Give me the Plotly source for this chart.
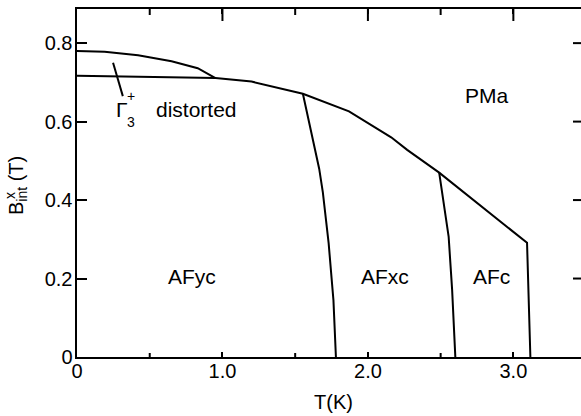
import plotly.graph_objects as go

# Phase boundaries, internal field B_int^x (T) versus temperature T (K)
upper_T = [0.0, 0.19, 0.42, 0.65, 0.83, 0.94, 0.952]
upper_B = [0.780, 0.778, 0.769, 0.754, 0.736, 0.714, 0.711]

main_T = [0.0, 0.5, 0.952, 1.20, 1.42, 1.553, 1.87, 2.16, 2.27, 2.49, 3.094, 3.105, 3.117]
main_B = [0.717, 0.714, 0.711, 0.702, 0.682, 0.671, 0.626, 0.560, 0.528, 0.470, 0.291, 0.171, 0.0]

afxc_T = [1.553, 1.62, 1.665, 1.69, 1.73, 1.763, 1.777, 1.78]
afxc_B = [0.671, 0.553, 0.480, 0.420, 0.290, 0.145, 0.030, 0.0]

afc_T = [2.49, 2.555, 2.579, 2.601]
afc_B = [0.470, 0.307, 0.171, 0.0]

pointer_T = [0.248, 0.315]
pointer_B = [0.750, 0.665]

# phase labels
phase_names = ["AFyc", "AFxc", "AFc", "PMa"]
phase_T = [0.794, 2.115, 2.85, 2.82]
phase_B = [0.206, 0.206, 0.206, 0.667]

x_tickvals = [0, 1, 2, 3]
x_ticktext = ["0", "1.0", "2.0", "3.0"]
x_minor = [0.5, 1.5, 2.5]
y_tickvals = [0, 0.2, 0.4, 0.6, 0.8]
y_ticktext = ["0", "0.2", "0.4", "0.6", "0.8"]
y_right_ticks = [0.2, 0.4, 0.6, 0.8]

FONT = "Liberation Sans"
LW = 2

fig = go.Figure()
for tx, by in [(upper_T, upper_B), (main_T, main_B), (afxc_T, afxc_B),
               (afc_T, afc_B), (pointer_T, pointer_B)]:
    fig.add_trace(go.Scatter(x=tx, y=by, mode="lines",
                             line=dict(color="black", width=LW),
                             showlegend=False, hoverinfo="skip"))

XR = [0, 3.465]
YR = [0, 0.887]

fig.update_layout(
    template="none",
    width=581, height=416,
    margin=dict(l=77, r=0, t=9, b=59),
    paper_bgcolor="white", plot_bgcolor="white",
    font=dict(family=FONT, size=20, color="black"),
    xaxis=dict(range=XR, showgrid=False, zeroline=False, automargin=False,
               showline=True, linecolor="black", linewidth=2,
               mirror="ticks", ticks="inside", ticklen=5, tickwidth=2, tickcolor="black",
               tickmode="array", tickvals=x_tickvals, ticktext=x_ticktext,
               ticklabelstandoff=-5, tickfont=dict(family=FONT, size=20)),
    yaxis=dict(range=YR, showgrid=False, zeroline=False, automargin=False,
               showline=True, linecolor="black", linewidth=2.5,
               ticks="inside", ticklen=10, tickwidth=2, tickcolor="black",
               tickmode="array", tickvals=y_tickvals, ticktext=y_ticktext,
               ticklabelstandoff=-2, tickfont=dict(family=FONT, size=20)),
)

tick_line = dict(color="black", width=2)


def xtick(val, at, length):
    # vertical tick of `length` px at axis value `val`, anchored on paper y `at`
    fig.add_shape(type="line", xref="x", yref="paper", ysizemode="pixel",
                  yanchor=at, x0=val, x1=val, y0=0, y1=length, line=tick_line)


def ytick(val, at, length):
    fig.add_shape(type="line", xref="paper", yref="y", xsizemode="pixel",
                  xanchor=at, y0=val, y1=val, x0=0, x1=length, line=tick_line)


# longer ticks hanging from the top frame line, short ones along the right edge
for v in x_minor:
    xtick(v, 0, 4)
    xtick(v, 1, -6)
for v in x_tickvals[1:]:
    xtick(v, 1, -12)
for v in y_right_ticks:
    ytick(v, 1, -8)

for name, tx, by in zip(phase_names, phase_T, phase_B):
    fig.add_annotation(x=tx, y=by, text=name, showarrow=False,
                       font=dict(family=FONT, size=21))

# Gamma_3^+ distorted label, with stacked sub/superscript
fig.add_annotation(x=0.309, y=0.632, text="Γ", showarrow=False,
                   font=dict(family=FONT, size=21))
fig.add_annotation(x=0.372, y=0.664, text="+", showarrow=False,
                   font=dict(family=FONT, size=14))
fig.add_annotation(x=0.368, y=0.600, text="3", showarrow=False,
                   font=dict(family=FONT, size=14))
fig.add_annotation(x=0.526, y=0.632, text="distorted", showarrow=False,
                   xanchor="left", font=dict(family=FONT, size=21))

# axis titles
fig.add_annotation(xref="paper", yref="paper", x=(333 - 77) / 504, y=(357 - 402) / 348,
                   xanchor="center", yanchor="middle",
                   text="T(K)", showarrow=False, font=dict(family=FONT, size=20))
fig.add_annotation(xref="paper", yref="paper", x=(17 - 77) / 504, y=(357 - 186) / 348,
                   xanchor="center", yanchor="middle",
                   text="B<sub>int</sub> (T)", textangle=-90, showarrow=False,
                   font=dict(family=FONT, size=20))
fig.add_annotation(xref="paper", yref="paper", x=(10 - 77) / 504, y=(357 - 196) / 348,
                   xanchor="center", yanchor="middle",
                   text="x", textangle=-90, showarrow=False,
                   font=dict(family=FONT, size=14))

fig.write_html("out.html", config={"staticPlot": True})
